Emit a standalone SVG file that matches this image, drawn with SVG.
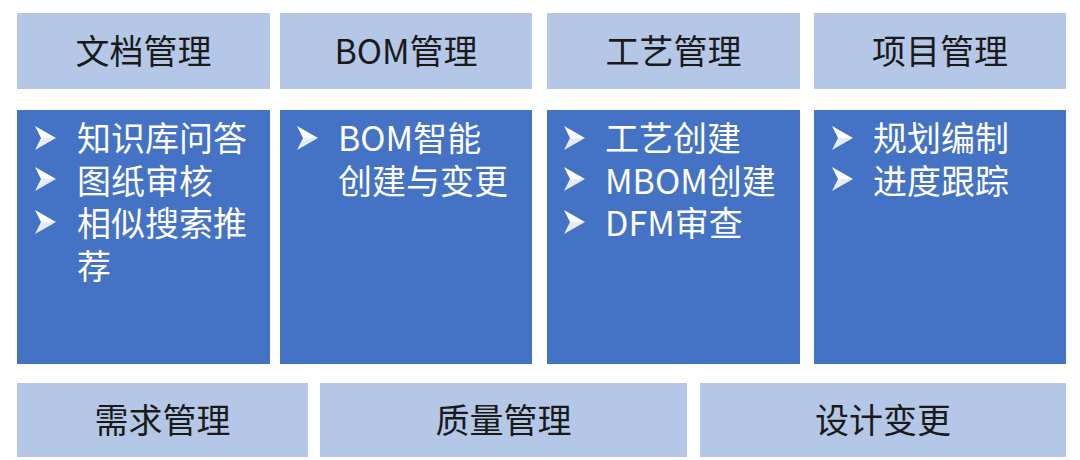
<svg xmlns="http://www.w3.org/2000/svg" width="1080" height="460" viewBox="0 0 1080 460">
  <style>
    .hdr { fill: #B4C7E7; }
    .body { fill: #4472C4; }
    .t { font-family: "Noto Sans CJK SC", "Noto Sans", sans-serif; font-size: 34px; fill: #1a1a1a; text-anchor: middle; }
    .w { font-family: "Noto Sans CJK SC", "Noto Sans", sans-serif; font-size: 34px; fill: #ffffff; }
  </style>
  <defs>
    <g id="bullet">
      <path d="M0,0 L21,12 L6,12 Z" fill="#ffffff"/>
      <path d="M0,24 L21,12 L6,12 Z" fill="#e6ebf5"/>
    </g>
  </defs>
  <rect width="1080" height="460" fill="#ffffff"/>

  <g id="doc-header">
    <rect class="hdr" x="17" y="13" width="253" height="76"/>
    <text class="t" x="143.5" y="64">文档管理</text>
  </g>
  <g id="bom-header">
    <rect class="hdr" x="280" y="13" width="252" height="76"/>
    <text class="t" x="406" y="64">BOM管理</text>
  </g>
  <g id="process-header">
    <rect class="hdr" x="547" y="13" width="253" height="76"/>
    <text class="t" x="673.5" y="64">工艺管理</text>
  </g>
  <g id="project-header">
    <rect class="hdr" x="814" y="13" width="252" height="76"/>
    <text class="t" x="940" y="64">项目管理</text>
  </g>

  <g id="doc-body">
    <rect class="body" x="17" y="110" width="253" height="254"/>
    <use href="#bullet" x="35" y="126"/>
    <use href="#bullet" x="35" y="167"/>
    <use href="#bullet" x="35" y="210"/>
    <text class="w"><tspan x="77" y="151">知识库问答</tspan><tspan x="77" y="193.5">图纸审核</tspan><tspan x="77" y="236">相似搜索推</tspan><tspan x="77" y="278.5">荐</tspan></text>
  </g>
  <g id="bom-body">
    <rect class="body" x="280" y="110" width="252" height="254"/>
    <use href="#bullet" x="297" y="126"/>
    <text class="w"><tspan x="338" y="151">BOM智能</tspan><tspan x="338" y="193.5">创建与变更</tspan></text>
  </g>
  <g id="process-body">
    <rect class="body" x="547" y="110" width="253" height="254"/>
    <use href="#bullet" x="564" y="126"/>
    <use href="#bullet" x="564" y="167"/>
    <use href="#bullet" x="564" y="210"/>
    <text class="w"><tspan x="605" y="151">工艺创建</tspan><tspan x="605" y="193.5">MBOM创建</tspan><tspan x="605" y="236">DFM审查</tspan></text>
  </g>
  <g id="project-body">
    <rect class="body" x="814" y="110" width="252" height="254"/>
    <use href="#bullet" x="832" y="126"/>
    <use href="#bullet" x="832" y="167"/>
    <text class="w"><tspan x="873" y="151">规划编制</tspan><tspan x="873" y="193.5">进度跟踪</tspan></text>
  </g>

  <g id="requirements">
    <rect class="hdr" x="17" y="383" width="291" height="74"/>
    <text class="t" x="162.5" y="433">需求管理</text>
  </g>
  <g id="quality">
    <rect class="hdr" x="320" y="383" width="367" height="74"/>
    <text class="t" x="503.5" y="433">质量管理</text>
  </g>
  <g id="design-change">
    <rect class="hdr" x="700" y="383" width="366" height="74"/>
    <text class="t" x="883" y="433">设计变更</text>
  </g>

  <g id="connectors"></g>
</svg>
